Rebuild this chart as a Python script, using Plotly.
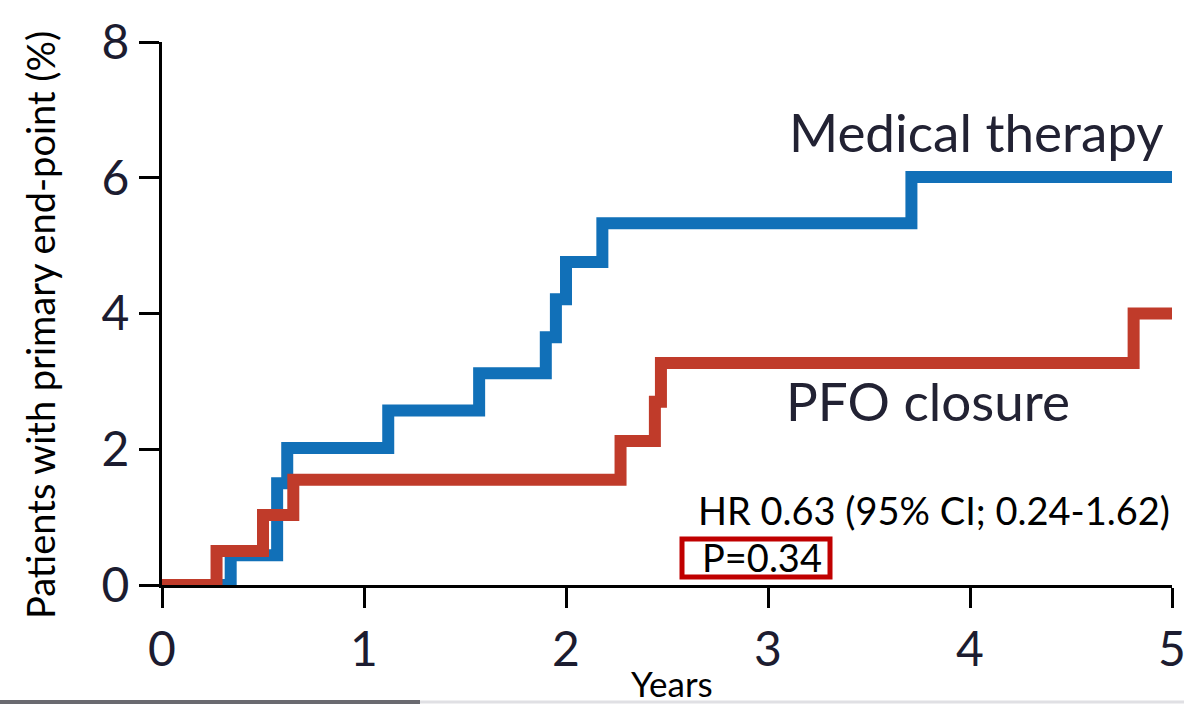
import plotly.graph_objects as go

# Kaplan-Meier style cumulative incidence (%)
medical_years = [0, 0.34, 0.57, 0.62, 1.12, 1.57, 1.90, 1.95, 2.00, 2.18, 3.71, 5.0]
medical_pct = [0, 0.44, 1.50, 2.02, 2.57, 3.12, 3.65, 4.21, 4.76, 5.33, 6.01, 6.01]

pfo_years = [0, 0.27, 0.50, 0.65, 2.27, 2.44, 2.47, 4.81, 5.0]
pfo_pct = [0, 0.50, 1.03, 1.55, 2.12, 2.70, 3.27, 4.00, 4.00]

x_ticks = [0, 1, 2, 3, 4, 5]
y_ticks = [0, 2, 4, 6, 8]

series_names = ["Medical therapy", "PFO closure"]
hr_text = "HR 0.63 (95% CI; 0.24-1.62)"
p_text = "P=0.34"

BLUE = "#1170b8"
RED = "#c03b2a"
TICKFONT = "Lato"
LABELFONT = "Lato"

fig = go.Figure()
fig.add_trace(go.Scatter(x=medical_years, y=medical_pct, mode="lines",
                         line=dict(color=BLUE, width=12, shape="hv"),
                         name=series_names[0], showlegend=False))
fig.add_trace(go.Scatter(x=pfo_years, y=pfo_pct, mode="lines",
                         line=dict(color=RED, width=12, shape="hv"),
                         name=series_names[1], showlegend=False))

fig.update_layout(
    width=1184, height=705,
    margin=dict(l=162, r=12, t=42, b=120, autoexpand=False),
    paper_bgcolor="white", plot_bgcolor="white",
    showlegend=False,
)
fig.update_xaxes(range=[0, 5], tickvals=x_ticks, ticktext=[str(v) for v in x_ticks],
                 showgrid=False, zeroline=False, showline=True, linecolor="black",
                 linewidth=3, ticks="outside", ticklen=20, tickwidth=3, tickcolor="black",
                 ticklabeloverflow="allow", automargin=False,
                 tickfont=dict(family=TICKFONT, size=48, color="#1c1c30"))
fig.update_yaxes(range=[0, 8], tickvals=y_ticks, ticktext=[str(v) for v in y_ticks],
                 showgrid=False, zeroline=False, showline=True, linecolor="black",
                 linewidth=3, ticks="outside", ticklen=20, tickwidth=3, tickcolor="black",
                 ticklabeloverflow="allow", automargin=False,
                 tickfont=dict(family=TICKFONT, size=48, color="#1c1c30"))

# extension of the y axis below zero (down to tick end)
fig.add_shape(type="line", xref="x", yref="paper", x0=0, x1=0, y0=0, y1=-20 / 543,
              line=dict(color="black", width=3))

anns = [
    dict(text=series_names[0], x=787, y=131, size=53, family=TICKFONT, color="#222233", xanchor="left"),
    dict(text=series_names[1], x=784, y=400, size=53, family=TICKFONT, color="#222233", xanchor="left"),
    dict(text=hr_text, x=1172, y=510, size=38, family=LABELFONT, color="black", xanchor="right"),
    dict(text=p_text, x=700, y=557, size=38, family=LABELFONT, color="black", xanchor="left"),
    dict(text="Years", x=672, y=683, size=35, family=LABELFONT, color="black", xanchor="center"),
]
for a in anns:
    fig.add_annotation(text=a["text"], xref="paper", yref="paper",
                       x=(a["x"] - 162) / 1010, y=(585 - a["y"]) / 543,
                       xanchor=a["xanchor"], yanchor="middle", showarrow=False,
                       font=dict(family=a["family"], size=a["size"], color=a["color"]))

fig.add_annotation(text="Patients with primary end-point (%)", xref="paper", yref="paper",
                   x=(40 - 162) / 1010, y=(585 - 325) / 543, textangle=-90,
                   xanchor="center", yanchor="middle", showarrow=False,
                   font=dict(family=LABELFONT, size=38, color="black"))

# red box around P value
fig.add_shape(type="rect", xref="paper", yref="paper",
              x0=(682 - 162) / 1010, x1=(830 - 162) / 1010,
              y0=(585 - 577) / 543, y1=(585 - 539) / 543,
              line=dict(color="#c00000", width=5), fillcolor="rgba(0,0,0,0)")

# faint slide shadow at the bottom edge
fig.add_shape(type="line", xref="paper", yref="paper",
              x0=-162 / 1010, x1=(420 - 162) / 1010, y0=(585 - 702) / 543, y1=(585 - 702) / 543,
              line=dict(color="#6a6a70", width=4))
fig.add_shape(type="line", xref="paper", yref="paper",
              x0=(420 - 162) / 1010, x1=(1184 - 162) / 1010, y0=(585 - 702) / 543, y1=(585 - 702) / 543,
              line=dict(color="#e0e0e4", width=3))

fig.write_html("out.html")
